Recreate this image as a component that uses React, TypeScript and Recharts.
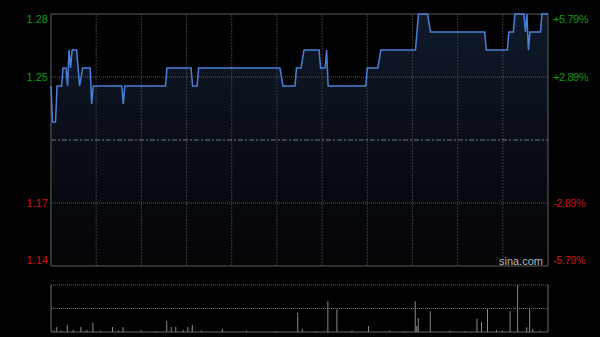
import { ComposedChart, Area, Line, Bar, XAxis, YAxis, ReferenceLine, ReferenceArea } from 'recharts';

// intraday HK session, minutes since 09:30 (lunch break removed), 330 = 16:00
const minutes = [0, 1, 3, 4, 7, 8, 10, 11, 12, 13, 14, 17, 19, 21, 26, 27, 28, 47, 48, 49, 76, 77, 93, 94, 97, 98, 152, 154, 162, 163, 166, 168, 178, 179, 182, 183, 184, 209, 210, 217, 219, 242, 244, 250, 252, 288, 289, 303, 304, 307, 308, 314, 315, 316, 317, 318, 325, 326, 330];
const prices = [1.24, 1.22, 1.22, 1.24, 1.24, 1.25, 1.25, 1.24, 1.26, 1.25, 1.26, 1.26, 1.24, 1.25, 1.25, 1.23, 1.24, 1.24, 1.23, 1.24, 1.24, 1.25, 1.25, 1.24, 1.24, 1.25, 1.25, 1.24, 1.24, 1.25, 1.25, 1.26, 1.26, 1.25, 1.25, 1.26, 1.24, 1.24, 1.25, 1.25, 1.26, 1.26, 1.28, 1.28, 1.27, 1.27, 1.26, 1.26, 1.27, 1.27, 1.28, 1.28, 1.27, 1.28, 1.26, 1.27, 1.27, 1.28, 1.28];

const volMinutes = [2, 4, 7, 11, 15, 20, 24, 28, 33, 41, 45, 48, 60, 70, 77, 80, 83, 88, 91, 94, 100, 114, 130, 150, 164, 167, 176, 184, 190, 200, 211, 225, 235, 242, 243, 244, 252, 265, 275, 283, 286, 290, 296, 300, 305, 310, 316, 318, 320, 325];
const volumes = [15000, 50000, 15000, 70000, 20000, 50000, 20000, 93000, 15000, 50000, 15000, 50000, 15000, 10000, 113000, 50000, 50000, 20000, 50000, 70000, 15000, 30000, 15000, 10000, 193000, 30000, 10000, 307000, 230000, 15000, 60000, 15000, 10000, 307000, 60000, 140000, 207000, 15000, 10000, 133000, 100000, 230000, 20000, 15000, 207000, 470000, 47000, 240000, 30000, 15000];

const PREV_CLOSE = 1.21;
const priceTicks = [1.14, 1.175, 1.245, 1.28];
const priceLabels = ['1.14', '1.17', '1.25', '1.28'];
const pctTicks = [-5.79, -2.89, 2.89, 5.79];
const pctLabels = ['-5.79%', '-2.89%', '+2.89%', '+5.79%'];
const halfHours = [30, 60, 90, 120, 150, 180, 210, 240, 270, 300];

const priceData = minutes.map((m, i) => ({ m, price: prices[i], pct: (prices[i] / PREV_CLOSE - 1) * 100 }));
const volData = volMinutes.map((m, i) => ({ m, vol: volumes[i] }));

const FONT = '"Liberation Sans", Arial, sans-serif';
const GREEN = '#129a12';
const RED = '#d01010';
const LABEL_DY = [-6, 0, 0, 5];

function LeftTick(props: any) {
  const { x, y, index } = props;
  return (
    <text x={x} y={y + LABEL_DY[index]} dy={4} textAnchor="end" fill={index >= 2 ? GREEN : RED} fontSize={11} fontFamily={FONT}>
      {priceLabels[index]}
    </text>
  );
}

function RightTick(props: any) {
  const { x, y, index } = props;
  return (
    <text x={x} y={y + LABEL_DY[index]} dy={4} textAnchor="start" fill={index >= 2 ? GREEN : RED} fontSize={11} fontFamily={FONT} letterSpacing={-0.4}>
      {pctLabels[index]}
    </text>
  );
}

export default function App() {
  return (
    <div style={{ position: 'absolute', left: 0, top: 0, width: 600, height: 337, background: '#000', overflow: 'hidden' }}>
      <ComposedChart width={600} height={275} data={priceData} margin={{ top: 14, right: 0, bottom: 9, left: 0 }}>
        <defs>
          <linearGradient id="priceFill" x1="0" y1="0" x2="0" y2="1">
            <stop offset="0%" stopColor="#1b2b48" />
            <stop offset="50%" stopColor="#0f1726" />
            <stop offset="100%" stopColor="#05070a" />
          </linearGradient>
        </defs>
        <XAxis dataKey="m" type="number" domain={[0, 330]} ticks={halfHours} height={0} tick={false} axisLine={false} tickLine={false} />
        <YAxis yAxisId="p" domain={[1.14, 1.28]} ticks={priceTicks} width={51} tick={<LeftTick />} tickSize={0} tickMargin={3} axisLine={false} tickLine={false} />
        <YAxis yAxisId="pct" orientation="right" domain={[-5.79, 5.79]} ticks={pctTicks} width={52} tick={<RightTick />} tickSize={0} tickMargin={5} axisLine={false} tickLine={false} allowDataOverflow />
        <Area yAxisId="p" type="linear" dataKey="price" stroke="none" fill="url(#priceFill)" isAnimationActive={false} />
        <Line yAxisId="pct" type="linear" dataKey="pct" stroke="none" dot={false} activeDot={false} isAnimationActive={false} />
        {halfHours.map((t) => (
          <ReferenceLine key={t} yAxisId="p" x={t} stroke="#3a3a3a" strokeDasharray="2 1" />
        ))}
        <ReferenceLine yAxisId="p" y={priceTicks[1]} stroke="#5a5a5a" strokeDasharray="1 1" />
        <ReferenceLine yAxisId="p" y={priceTicks[2]} stroke="#5a5a5a" strokeDasharray="1 1" />
        <ReferenceLine yAxisId="p" y={PREV_CLOSE} stroke="#6d7885" strokeDasharray="5 2 2 2" />
        <Line yAxisId="p" type="linear" dataKey="price" stroke="#4a80d8" strokeWidth={1.5} dot={false} isAnimationActive={false} />
        <ReferenceArea yAxisId="p" x1={0} x2={330} y1={1.14} y2={1.28} fill="none" stroke="#5e5e5e" />
      </ComposedChart>
      <div style={{ position: 'absolute', left: 499, top: 255, fontFamily: FONT, fontSize: 11, color: '#b8b8b8' }}>sina.com</div>
      <ComposedChart width={600} height={62} data={volData} margin={{ top: 10, right: 52, bottom: 5, left: 51 }}>
        <XAxis dataKey="m" type="number" domain={[0, 330]} hide />
        <YAxis domain={[0, 470000]} hide />
        <ReferenceLine y={470000} stroke="#6a6a6a" strokeDasharray="1 1" />
        <ReferenceLine y={235000} stroke="#6a6a6a" strokeDasharray="1 1" />
        <Bar dataKey="vol" fill="#8a8a8a" barSize={1} isAnimationActive={false} />
        <ReferenceLine y={0} stroke="#6a6a6a" />
        <ReferenceLine x={0} stroke="#6a6a6a" />
        <ReferenceLine x={330} stroke="#6a6a6a" />
      </ComposedChart>
    </div>
  );
}
